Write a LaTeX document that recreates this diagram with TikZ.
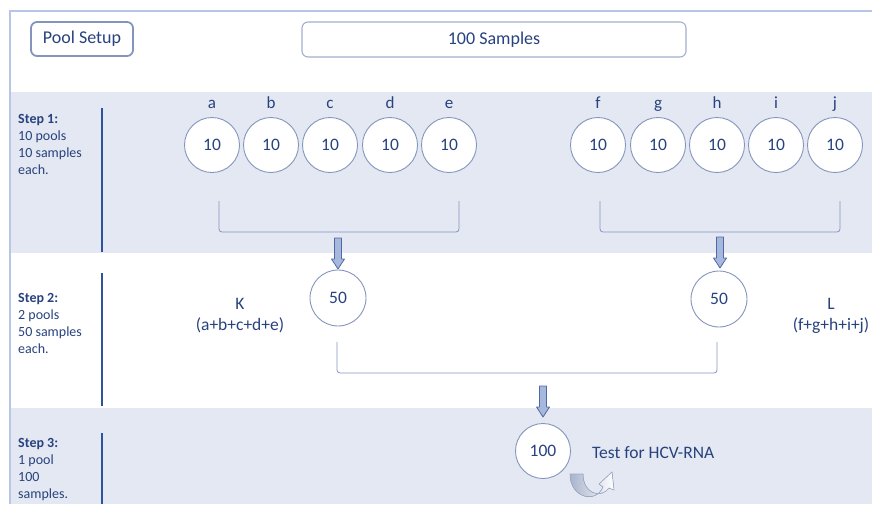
\documentclass[tikz,border=0pt]{standalone}
\usepackage{fontspec}
\setmainfont{Carlito}
\usetikzlibrary{calc}

\definecolor{ink}{HTML}{27427F}
\definecolor{band}{HTML}{E4E8F2}
\definecolor{rim}{HTML}{8495BD}
\definecolor{framecol}{HTML}{B7C6E6}
\definecolor{rulecol}{HTML}{2F52A0}
\definecolor{arrowfill}{HTML}{A7B8DD}
\definecolor{arrowline}{HTML}{5069A6}

\tikzset{
  pool/.style={circle,draw=rim,line width=0.9pt,fill=white,minimum size=55pt,
    inner sep=0pt,text=ink,font=\fontsize{17.5}{20}\selectfont},
  lbl/.style={text=ink,font=\fontsize{17}{20}\selectfont,inner sep=0pt,
    text height=0.7em,text depth=0.22em,label distance=6pt},
  txt/.style={text=ink,font=\fontsize{17.5}{21}\selectfont,inner sep=0pt},
  steptxt/.style={anchor=north west,align=left,inner sep=0pt,text=ink,
    font=\fontsize{14}{17}\selectfont},
  headbox/.style={draw=rim,rounded corners=6pt,text=ink,fill=white,
    font=\fontsize{18}{21}\selectfont,inner sep=0pt},
  bracket/.style={draw=rim,line width=0.8pt,rounded corners=3pt},
  steprule/.style={draw=rulecol,line width=2.4pt},
  down arrow/.pic={
    \filldraw[fill=arrowfill,draw=arrowline,line width=0.8pt,line join=round]
      (-3.5,0) -- (-3.5,21) -- (-6.5,21) -- (0,31) -- (6.5,21) -- (3.5,21)
      -- (3.5,0) -- cycle;}
}

\begin{document}
\begin{tikzpicture}[x=1pt,y=-1pt]
    \useasboundingbox (0,0) rectangle (872,504);

    % bandes des trois étapes
    \fill[band] (11,92) rectangle (872,253);
    \fill[band] (11,408) rectangle (872,504);
    \draw[framecol,line width=1.5pt] (10,504) -- (10,11) -- (872,11);

    % en-tête
    \node[headbox,line width=1.8pt,minimum width=102pt,minimum height=34pt]
      (setup) at (82,39) {Pool Setup};
    \node[headbox,draw=rim!75,line width=1.1pt,minimum width=384pt,minimum height=35pt]
      (samples) at (494,39.5) {100 Samples};

    % légendes à gauche
    \node[steptxt] (s1) at (18,114) {\textbf{Step 1:}\\10 pools\\10 samples\\each.};
    \node[steptxt] (s2) at (18,293) {\textbf{Step 2:}\\2 pools\\50 samples\\each.};
    \node[steptxt] (s3) at (18,438) {\textbf{Step 3:}\\1 pool\\100\\samples.};
    \draw[steprule] (102,108) -- (102,252);
    \draw[steprule] (102,273) -- (102,406);
    \draw[steprule] (102,433) -- (102,504);

    % étape 1 : dix pools de 10
    \foreach \n/\x in {a/212,b/271,c/330,d/390,e/449,f/598,g/658,h/717,i/776,j/835}
        \node[pool,label={[lbl]above:\n}] (\n) at (\x,145) {10};

    \coordinate (kL) at (219,201);
    \coordinate (kR) at (459,201);
    \coordinate (lL) at (600,201);
    \coordinate (lR) at (840,201);
    \draw[bracket] (kL) -- ++(0,31) -| (kR);
    \draw[bracket] (lL) -- ++(0,31) -| (lR);
    \pic at (338,238) {down arrow};
    \pic at (720,237) {down arrow};

    % étape 2 : deux pools de 50
    \node[pool,minimum size=56pt] (K) at (338,298) {50};
    \node[pool,minimum size=56pt] (L) at (719,299) {50};
    \node[txt,align=center] (Ksum) at (240,316) {K\\(a+b+c+d+e)};
    \node[txt,align=center] (Lsum) at (831,316) {L\\(f+g+h+i+j)};

    \coordinate (mL) at (337,342);
    \coordinate (mR) at (717,342);
    \draw[bracket] (mL) -- ++(0,31) -| (mR);
    \pic at (543,386) {down arrow};

    % étape 3 : un pool de 100
    \node[pool,minimum size=55pt] (all) at (543,451) {100};
    \node[txt,anchor=west] (test) at (592,453) {Test for HCV-RNA};
    \filldraw[draw=rim!80,line width=0.6pt,left color=ink!40,right color=white]
      (570,474) .. controls (570,498) and (596,504) .. (603,487)
      -- (599,484) -- (612,472) -- (614,490) -- (609,488)
      .. controls (601,499) and (583,494) .. (583,474) -- cycle;
\end{tikzpicture}
\end{document}
